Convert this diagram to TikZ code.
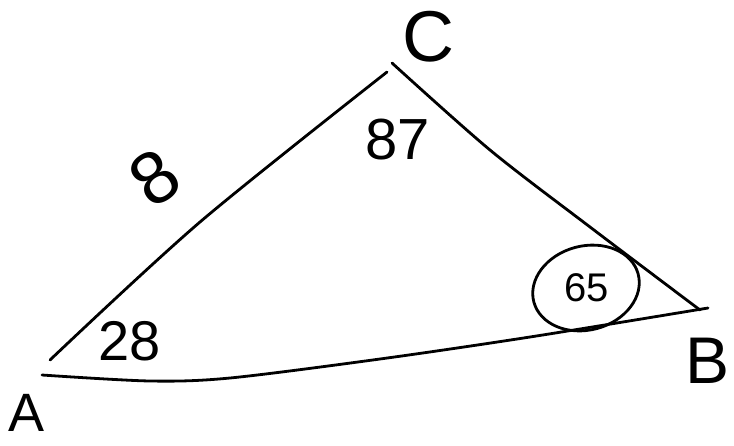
\documentclass[tikz,border=0pt]{standalone}
\usepackage{fontspec}
\setmainfont{Liberation Sans}
\usetikzlibrary{shapes.geometric}
\tikzset{
  side/.style={line width=2.8pt,line cap=round,smooth},
  vtx/.style={inner sep=0pt,font=\fontsize{#1}{#1}\selectfont},
  ang/.style={inner sep=0pt,font=\fontsize{#1}{#1}\selectfont},
}
\begin{document}
\begin{tikzpicture}[x=1pt,y=-1pt]
  \useasboundingbox (0,0) rectangle (734,445);
  % sides (hand drawn, so they bend a little and miss each other)
  \draw[side] plot coordinates {(50,360) (200,222) (387,72)};
  \draw[side] plot coordinates {(392,63) (490,150) (590,227) (700,310)};
  \draw[side] plot coordinates {(42,375) (150,381) (230,378) (380,359) (530,337) (708,308)};
  % vertices
  \node[vtx=72pt] (C) at (428,37) {C};
  \node[vtx=54pt] (A) at (27,413) {A};
  \node[vtx=66pt] (B) at (708,361) {B};
  % side and angles
  \node[ang=74pt,rotate=35] (sAC) at (155,178) {8};
  \node[ang=58pt] (angC) at (398,140) {87};
  \node[ang=56pt] (angA) at (130,341) {28};
  \node[ang=40pt] (angB) at (587,288) {65};
  \node[draw,ellipse,line width=2.8pt,rotate=15,minimum width=108pt,minimum height=84pt] (ring) at (586,288) {};
\end{tikzpicture}
\end{document}
